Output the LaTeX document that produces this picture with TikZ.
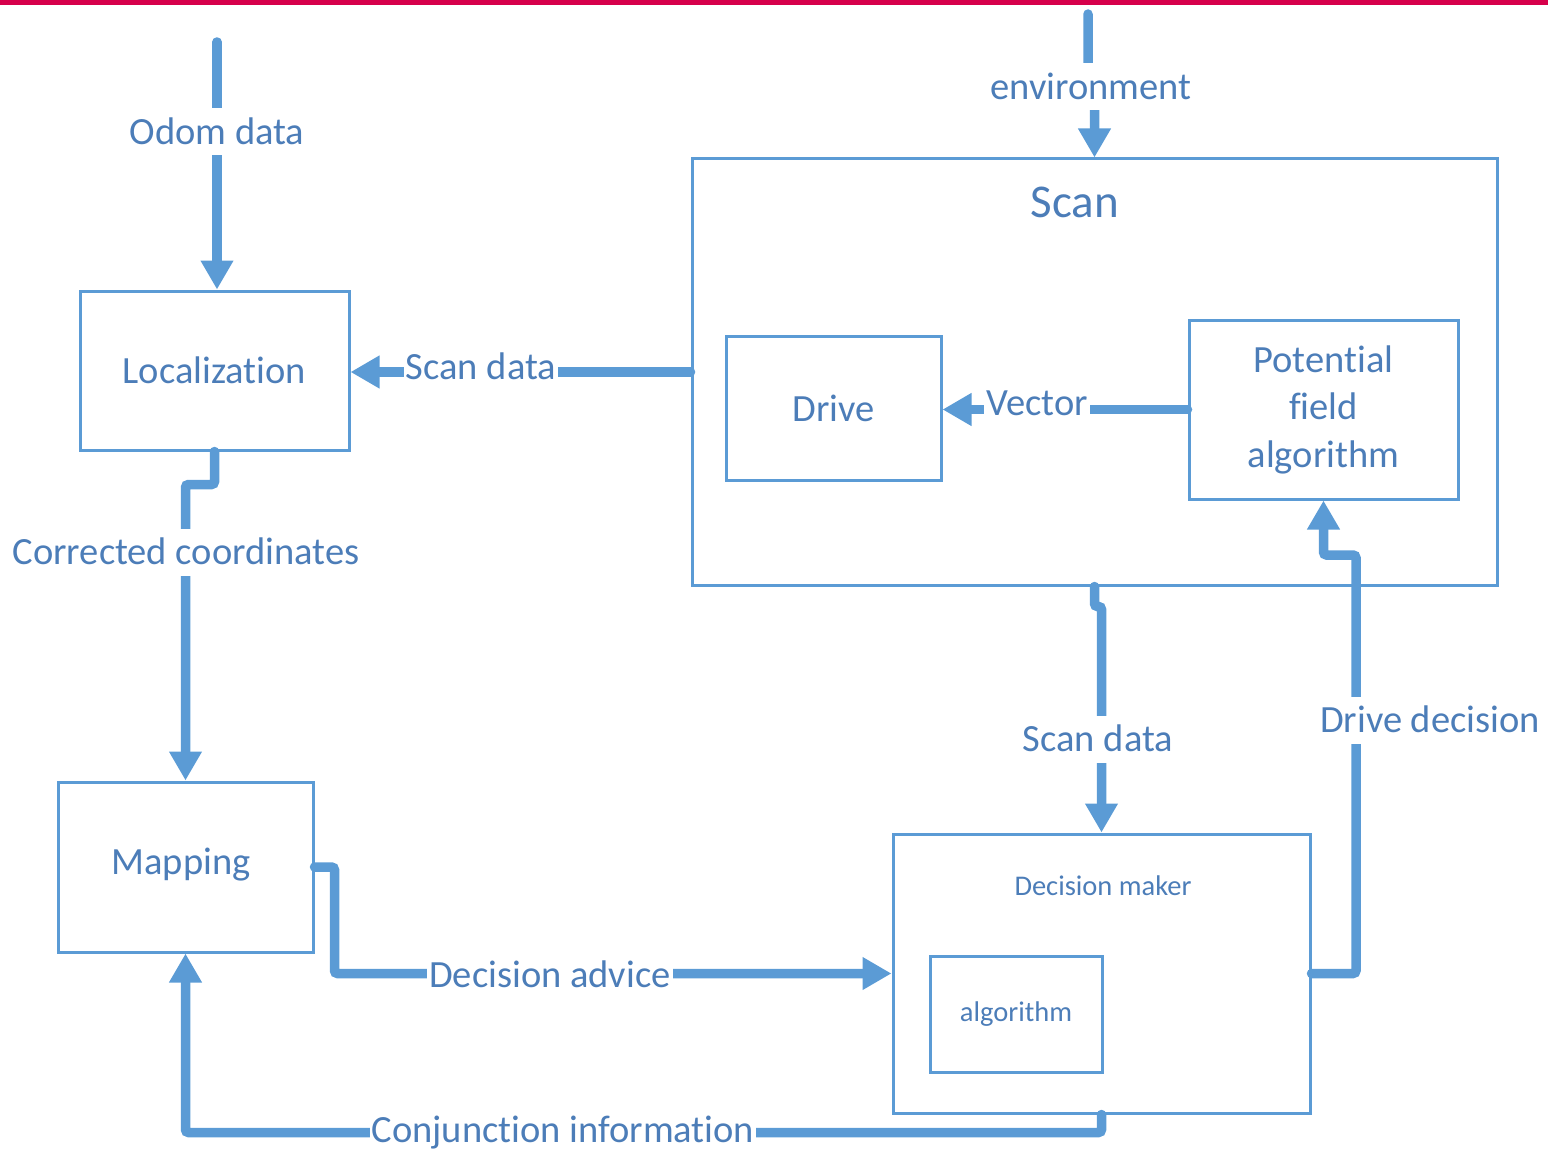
\documentclass[tikz,border=0pt]{standalone}
\usepackage{fontspec}
\setmainfont{Carlito}[Ligatures=NoCommon]
\usetikzlibrary{arrows.meta}
\definecolor{boxblue}{HTML}{5B9BD5}
\definecolor{txtblue}{HTML}{4C7DB8}
\definecolor{barred}{HTML}{D6004B}
\begin{document}
\begin{tikzpicture}[x=1pt,y=-1pt,
  box/.style={draw=boxblue,line width=3pt,inner sep=0pt,text=txtblue,
    font=\fontsize{38.5}{47.5}\selectfont,align=center},
  smallbox/.style={box,font=\fontsize{28.5}{34}\selectfont},
  link/.style={draw=boxblue,line width=9.5pt,line cap=round,rounded corners=3pt},
  flow/.style={link,-{Triangle[width=31pt,length=29pt]}},
  lbl/.style={fill=white,text=txtblue,inner xsep=2pt,inner ysep=11pt,
    text height=25pt,text depth=0pt,font=\fontsize{38.5}{46}\selectfont},
  title/.style={text=txtblue,inner sep=0pt,text height=25pt,text depth=0pt}
]
\useasboundingbox (0,0) rectangle (1548,1153);
\fill[barred] (0,0) rectangle (1548,5);

% blocks
\node[box,minimum width=269pt,minimum height=159pt] (loc) at (214.5,370.5) {Localization};
\node[box,minimum width=805pt,minimum height=426pt] (scan) at (1094.5,372) {};
\node[title,font=\fontsize{47}{56}\selectfont,text height=30pt] (scantitle) at (1075,203) {Scan};
\node[box,minimum width=215pt,minimum height=144pt] (drive) at (833.5,408) {Drive};
\node[box,minimum width=269pt,minimum height=179pt] (pf) at (1323.5,409.5) {Potential\\field\\algorithm};
\node[box,minimum width=255pt,minimum height=170pt] (map) at (185.5,867) {};
\node[title,font=\fontsize{38.5}{46}\selectfont] (maptext) at (181,862) {Mapping};
\node[box,minimum width=417pt,minimum height=279pt] (dm) at (1101.5,973.5) {};
\node[title,font=\fontsize{28.5}{34}\selectfont,text height=19pt] (dmtitle) at (1103,886) {Decision maker};
\node[smallbox,minimum width=172pt,minimum height=116pt] (alg) at (1016,1014) {algorithm};

% free ends of the incoming lines
\coordinate (odomsrc) at (217,42);
\coordinate (envsrc) at (1088,14);
\coordinate (ddjog) at (1356,555);

% connectors
\draw[flow] (odomsrc) -- (odomsrc |- loc.north);
\draw[flow] (envsrc) -- ++(0,73) -| (scan.north);
\draw[flow] (scan.west) -- (scan.west -| loc.east);
\draw[flow] (pf.west) -- (pf.west -| drive.east);
\draw[flow] (loc.south) -- ++(0,33) -| (map.north);
\draw[flow] (scan.south) -- ++(0,20) -| (dm.north);
\draw[flow] (dm.east) -| (ddjog) -| (pf.south);
\draw[flow] (map.east) -- ++(20,0) |- (dm.west);
\draw[flow] (dm.south) -- ++(0,18) -| (map.south);

% connector labels
\node[lbl] (lodom) at (217,132) {Odom data};
\node[lbl] (lenv) at (1091,87) {environment};
\node[lbl] (lscanl) at (481,367) {Scan data};
\node[lbl] (lvec) at (1037,403) {Vector};
\node[lbl] (lcorr) at (186,552) {Corrected coordinates};
\node[lbl] (lscanb) at (1098,739) {Scan data};
\node[lbl] (ldd) at (1430,720) {Drive decision};
\node[lbl] (ladv) at (550,975) {Decision advice};
\node[lbl,inner ysep=4pt] (lconj) at (563,1130) {Conjunction information};
\end{tikzpicture}
\end{document}
